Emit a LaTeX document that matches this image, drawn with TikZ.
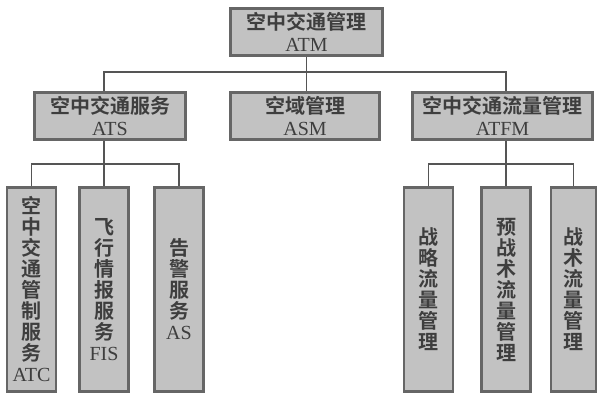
\documentclass[tikz,border=0pt]{standalone}
\usepackage{fontspec}
\setmainfont{Liberation Serif}
\newfontfamily\cjk{Noto Sans CJK SC}[BoldFont={Noto Sans CJK SC Bold}]
\definecolor{boxfill}{HTML}{C2C2C2}
\definecolor{boxline}{HTML}{666666}
\definecolor{txt}{HTML}{3E3E3E}
\definecolor{lnc}{HTML}{555555}
\newcommand{\zh}[1]{{\cjk\bfseries #1}}
\tikzset{
  box/.style={draw=boxline, line width=2.6pt, fill=boxfill, text=txt,
    inner sep=0pt, align=center, font=\fontsize{20}{22.5}\selectfont},
  hbox/.style={box, minimum height=47.4pt},
  vbox/.style={box, minimum height=204.4pt, minimum width=49pt,
    font=\fontsize{20}{21}\selectfont},
  conn/.style={draw=lnc, line width=1.2pt},
}
\begin{document}
\begin{tikzpicture}[x=1pt,y=-1pt]
\useasboundingbox (0,0) rectangle (597,394);
% level 1
\node[hbox, minimum width=152.4pt] (atm) at (306.5,32) {\zh{空中交通管理}\\ATM};
% level 2
\node[hbox, minimum width=151.4pt] (ats) at (110,116) {\zh{空中交通服务}\\ATS};
\node[hbox, minimum width=149.4pt] (asm) at (305,116) {\zh{空域管理}\\ASM};
\node[hbox, minimum width=180.4pt] (atfm) at (502.5,116) {\zh{空中交通流量管理}\\ATFM};
% level 3 left
\node[vbox] (atc) at (31.5,289.5) {\zh{空}\\\zh{中}\\\zh{交}\\\zh{通}\\\zh{管}\\\zh{制}\\\zh{服}\\\zh{务}\\ATC};
\node[vbox] (fis) at (104,289.5) {\zh{飞}\\\zh{行}\\\zh{情}\\\zh{报}\\\zh{服}\\\zh{务}\\FIS};
\node[vbox] (as) at (179,289.5) {\zh{告}\\\zh{警}\\\zh{服}\\\zh{务}\\AS};
% level 3 right
\node[vbox] (sfm) at (428.5,289.5) {\zh{战}\\\zh{略}\\\zh{流}\\\zh{量}\\\zh{管}\\\zh{理}};
\node[vbox] (pfm) at (506,289.5) {\zh{预}\\\zh{战}\\\zh{术}\\\zh{流}\\\zh{量}\\\zh{管}\\\zh{理}};
\node[vbox, minimum width=45pt] (tfm) at (573.5,289.5) {\zh{战}\\\zh{术}\\\zh{流}\\\zh{量}\\\zh{管}\\\zh{理}};
% bus coordinates
\coordinate (b1) at (0,72);
\coordinate (b2) at (0,164);
% connectors level 1-2
\draw[conn] (atm.south) -- (atm.south |- asm.north);
\draw[conn] (fis.north |- ats.north) -- (fis.north |- b1) -- (pfm.north |- b1) -- (pfm.north |- atfm.north);
% connectors level 2-3 left
\draw[conn] (fis.north |- ats.south) -- (fis.north);
\draw[conn] (atc.north) -- (atc.north |- b2) -- (as.north |- b2) -- (as.north);
% connectors level 2-3 right
\draw[conn] (pfm.north |- atfm.south) -- (pfm.north);
\draw[conn] (sfm.north) -- (sfm.north |- b2) -- (tfm.north |- b2) -- (tfm.north);
\end{tikzpicture}
\end{document}
